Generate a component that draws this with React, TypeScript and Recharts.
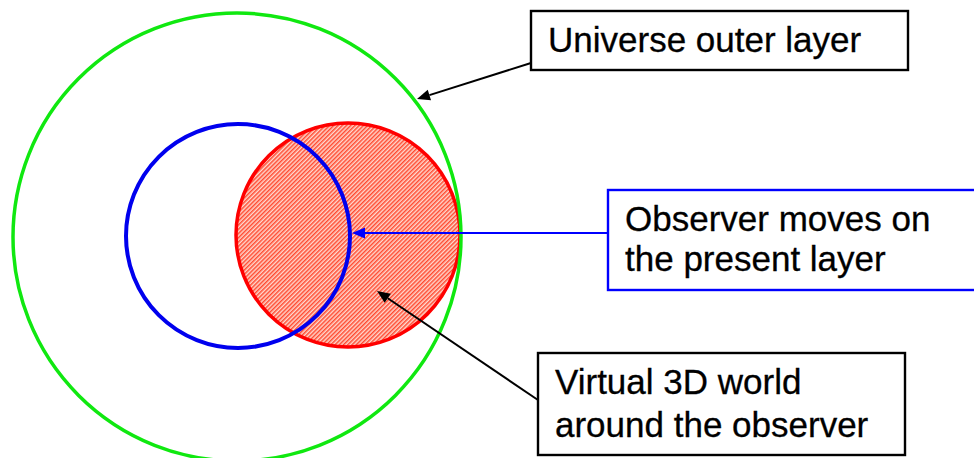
import React from "react";
import { ScatterChart, Scatter, XAxis, YAxis } from "recharts";

// diagram units are the same as pixels (0..974 across, 0..458 down)
const WIDTH = 974;
const HEIGHT = 458;

const outerLayer = [{ x: 237, y: 237, r: 224 }];
const virtualWorld = [{ x: 348, y: 235, r: 112 }];
const observerLayer = [{ x: 238, y: 236, r: 112 }];

const boxLabels = [
  ["Universe outer layer"],
  ["Observer moves on", "the present layer"],
  ["Virtual 3D world", "around the observer"],
];
const boxLeft = [531, 608, 538];
const boxRight = [908, 990, 905];
const boxTop = [11, 190, 353];
const boxBottom = [70, 290, 455];
const lineGaps = [0, 40, 43];

const arrowFromX = [531, 608, 538];
const arrowFromY = [63, 233, 400];
const arrowToX = [417, 352, 377];
const arrowToY = [99, 233, 291];

const boxColors = ["#000000", "#0000ff", "#000000"];
const arrowColors = ["#000000", "#0000ff", "#000000"];
const FONT = "'Liberation Sans', Arial, sans-serif";

const arrows = arrowToX.map((x, i) => ({
  x,
  y: arrowToY[i],
  fromX: arrowFromX[i],
  fromY: arrowFromY[i],
  i,
}));
const boxes = boxLeft.map((x, i) => ({
  x,
  y: boxTop[i],
  w: boxRight[i] - x,
  h: boxBottom[i] - boxTop[i],
  i,
}));

function ringShape(stroke: string, width: number, fill: string) {
  return (props: any) => {
    const { cx, cy, payload } = props;
    return (
      <g>
        <defs>
          <pattern
            id="hatch"
            patternUnits="userSpaceOnUse"
            width={3}
            height={3}
            patternTransform="rotate(45)"
          >
            <rect width={3} height={3} fill="#ffd8cf" />
            <rect width={1.5} height={3} fill="#ff4a30" />
          </pattern>
        </defs>
        <circle
          cx={cx}
          cy={cy}
          r={payload.r}
          fill={fill}
          stroke={stroke}
          strokeWidth={width}
        />
      </g>
    );
  };
}

const arrowShape = (props: any) => {
  const { cx, cy, payload } = props;
  const color = arrowColors[payload.i];
  const x1 = cx + (payload.fromX - payload.x);
  const y1 = cy + (payload.fromY - payload.y);
  const ang = Math.atan2(cy - y1, cx - x1);
  const len = 13;
  const half = 5.5;
  const bx = cx - len * Math.cos(ang);
  const by = cy - len * Math.sin(ang);
  const px = -Math.sin(ang) * half;
  const py = Math.cos(ang) * half;
  return (
    <g>
      <line
        x1={x1}
        y1={y1}
        x2={bx}
        y2={by}
        stroke={color}
        strokeWidth={payload.i === 1 ? 1.8 : 2}
      />
      <path
        d={`M${cx},${cy} L${bx + px},${by + py} L${bx - px},${by - py} Z`}
        fill={color}
      />
    </g>
  );
};

const boxShape = (props: any) => {
  const { cx, cy, payload } = props;
  const lines = boxLabels[payload.i];
  return (
    <g>
      <rect
        x={cx}
        y={cy}
        width={payload.w}
        height={payload.h}
        fill="#ffffff"
        stroke={boxColors[payload.i]}
        strokeWidth={2.4}
      />
      {lines.map((t, k) => (
        <text
          key={t}
          x={cx + 17}
          y={cy + 41 + k * lineGaps[payload.i]}
          fontFamily={FONT}
          fontSize={35}
          fill="#000000"
          stroke="#000000"
          strokeWidth={0.3}
        >
          {t}
        </text>
      ))}
    </g>
  );
};

export default function App() {
  return (
    <div style={{ position: "absolute", left: 0, top: 0, background: "#fff" }}>
      <ScatterChart
        width={WIDTH}
        height={HEIGHT}
        margin={{ top: 0, right: 0, bottom: 0, left: 0 }}
      >
        <XAxis type="number" dataKey="x" domain={[0, WIDTH]} hide allowDataOverflow />
        <YAxis
          type="number"
          dataKey="y"
          domain={[0, HEIGHT]}
          reversed
          hide
          allowDataOverflow
        />
        <Scatter
          data={virtualWorld}
          isAnimationActive={false}
          shape={ringShape("#ff0000", 3.5, "url(#hatch)")}
        />
        <Scatter
          data={observerLayer}
          isAnimationActive={false}
          shape={ringShape("#0000ee", 4, "none")}
        />
        <Scatter
          data={outerLayer}
          isAnimationActive={false}
          shape={ringShape("#10e810", 3.5, "none")}
        />
        <Scatter data={arrows} isAnimationActive={false} shape={arrowShape} />
        <Scatter data={boxes} isAnimationActive={false} shape={boxShape} />
      </ScatterChart>
    </div>
  );
}
